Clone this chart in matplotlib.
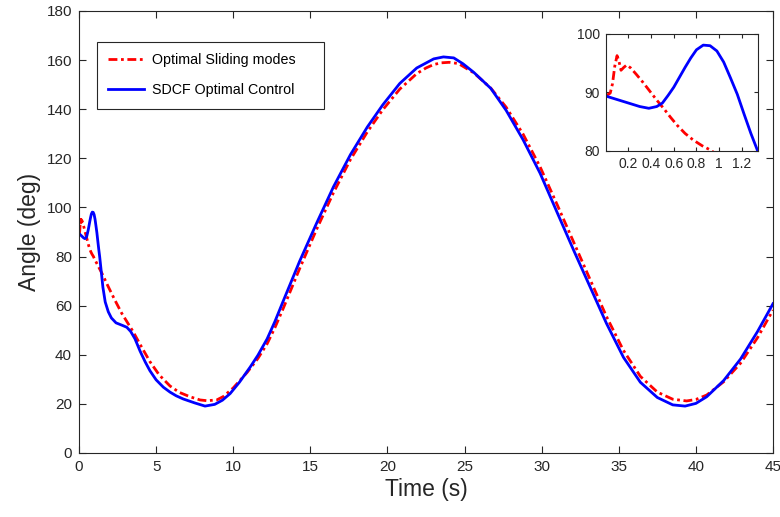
import matplotlib.pyplot as plt
import numpy as np

plt.rcParams['font.family'] = ['Liberation Sans', 'DejaVu Sans']

# Optimal Sliding modes (red, dash-dot)
t_sm = [0, 0.04, 0.06, 0.08, 0.1, 0.115, 0.135, 0.16, 0.185, 0.22, 0.27, 0.33,
        0.39, 0.45, 0.51, 0.57, 0.63, 0.7, 0.77, 0.85, 0.92, 1.04, 1.5, 1.9,
        2.3, 2.77, 3.5, 4.0, 4.6, 5.2, 5.9, 6.5, 7.2, 7.85, 8.3, 8.93, 9.36,
        10.0, 10.9, 11.6, 12.2, 12.7, 13.25, 14.3, 15.4, 16.5, 17.6, 18.7, 19.7,
        20.8, 21.9, 22.5, 23.0, 23.5, 24.0, 24.6, 25.6, 26.7, 27.7, 28.8, 29.9,
        31.0, 32.1, 33.2, 34.2, 35.3, 36.4, 37.5, 38.5, 39.4, 40.0, 40.7, 41.8,
        42.9, 44.0, 45.0]
ang_sm = [89.4, 89.9, 91.5, 94.5, 96.3, 95.5, 93.8, 94.3, 94.7, 94.2, 93.1, 91.7,
          90.2, 88.7, 87.3, 85.8, 84.4, 83.0, 81.9, 80.9, 80.2, 78.6, 73.0, 67.7,
          62.6, 56.9, 49.5, 43.8, 37.2, 31.8, 27.3, 24.7, 22.9, 21.6, 21.3, 21.6, 23.0,
          26.5, 32.8, 38.5, 44.5, 51.0, 59.0, 75.0, 91.0, 106.0, 119.5, 130.8, 139.8,
          148.2, 154.5, 156.8, 158.2, 158.9, 159.1, 158.6, 154.8, 148.6, 140.8, 129.8, 116.5,
          101.2, 85.5, 69.8, 55.6, 41.8, 31.2, 24.8, 21.9, 21.2, 21.8, 23.6, 29.0,
          36.6, 47.0, 58.2]

# SDCF Optimal Control (blue, solid)
t_sdcf = [0, 0.1, 0.2, 0.3, 0.38, 0.45, 0.5, 0.55, 0.6, 0.65, 0.7, 0.75, 0.8,
          0.86, 0.92, 0.98, 1.04, 1.1, 1.16, 1.22, 1.28, 1.34, 1.45, 1.55, 1.7,
          1.9, 2.1, 2.4, 2.8, 3.1, 3.35, 3.63, 3.96, 4.3, 4.6, 5.0, 5.47, 5.9,
          6.3, 6.76, 7.5, 8.17, 8.8, 9.3, 9.8, 10.4, 11.1, 11.6, 12.2, 12.7,
          13.25, 14.3, 15.4, 16.5, 17.6, 18.7, 19.7, 20.8, 21.9, 23.0, 23.63,
          24.3, 24.9, 25.6, 26.7, 27.7, 28.8, 29.9, 31.0, 32.1, 33.2, 34.2, 35.3,
          36.4, 37.5, 38.5, 39.3, 40.0, 40.7, 41.8, 42.9, 44.0, 45.0]
ang_sdcf = [89.4, 88.8, 88.2, 87.6, 87.3, 87.6, 88.2, 89.5, 90.9, 92.6, 94.3, 95.9,
            97.3, 98.1, 98.0, 97.1, 95.2, 92.5, 89.7, 86.3, 83.0, 80.0, 73.5, 67.5,
            61.5, 57.5, 55.0, 53.0, 52.0, 51.2, 49.5, 46.5, 41.5, 37.0, 33.5, 29.8,
            26.8, 24.8, 23.3, 22.0, 20.4, 19.1, 19.8, 21.5, 24.2, 28.8, 35.0, 39.8,
            46.5, 53.5, 62.0, 78.0, 93.5, 108.4, 121.5, 132.8, 141.8, 150.5, 156.8,
            160.5, 161.3, 160.9, 158.5, 155.0, 148.5, 139.5, 127.5, 113.9, 98.0, 82.2,
            66.8, 52.8, 39.0, 28.8, 22.6, 19.6, 19.1, 20.2, 22.9, 29.5, 38.3, 49.5,
            60.8]

x_ticks = [0, 5, 10, 15, 20, 25, 30, 35, 40, 45]
y_ticks = [0, 20, 40, 60, 80, 100, 120, 140, 160, 180]
inset_x_ticks = [0.2, 0.4, 0.6, 0.8, 1.0, 1.2]
inset_x_labels = ['0.2', '0.4', '0.6', '0.8', '1', '1.2']
inset_y_ticks = [80, 90, 100]

gray = (0.15, 0.15, 0.15)
red_dash = (0, (3.2, 1.3, 1.0, 1.3))

fig = plt.figure(figsize=(7.8, 5.17), dpi=100)
ax = fig.add_axes([79 / 780, 64 / 517, 694 / 780, 442 / 517])

ax.plot(t_sm, ang_sm, color='red', linestyle=red_dash, linewidth=2.0,
        label='Optimal Sliding modes')
ax.plot(t_sdcf, ang_sdcf, color='blue', linewidth=2.0,
        label='SDCF Optimal Control')

ax.set_xlim(0, 45)
ax.set_ylim(0, 180)
ax.set_xticks(x_ticks)
ax.set_yticks(y_ticks)
ax.set_xlabel('Time (s)', fontsize=16.5, color=gray, labelpad=3)
ax.set_ylabel('Angle (deg)', fontsize=16.5, color=gray, labelpad=4)
ax.tick_params(direction='in', top=True, right=True, length=5, width=0.8,
               labelsize=11, colors=gray, pad=5)
for s in ax.spines.values():
    s.set_color(gray)
    s.set_linewidth(0.8)

# legend box stretched to the reference width
leg = ax.legend(loc='upper left', bbox_to_anchor=(0.0255, 0.5, 0.3275, 0.43),
                mode='expand', fontsize=10.3, frameon=True, fancybox=False,
                edgecolor=gray, framealpha=1, handlelength=2.5,
                handletextpad=0.6, borderpad=0.8, labelspacing=1.1,
                borderaxespad=0)
leg.get_frame().set_linewidth(0.8)

# inset
ins = fig.add_axes([605.7 / 780, 366 / 517, 152 / 780, 117 / 517])
ins.plot(t_sm, ang_sm, color='red', linestyle=red_dash, linewidth=2.0)
ins.plot(t_sdcf, ang_sdcf, color='blue', linewidth=2.0)
ins.set_xlim(0, 1.34)
ins.set_ylim(80, 100)
ins.set_xticks(inset_x_ticks)
ins.set_xticklabels(inset_x_labels)
ins.set_yticks(inset_y_ticks)
ins.tick_params(direction='in', top=True, right=True, length=3, width=0.8,
                labelsize=10, colors=gray, pad=4)
for s in ins.spines.values():
    s.set_color(gray)
    s.set_linewidth(0.8)

fig.savefig('out.png', dpi=100)
